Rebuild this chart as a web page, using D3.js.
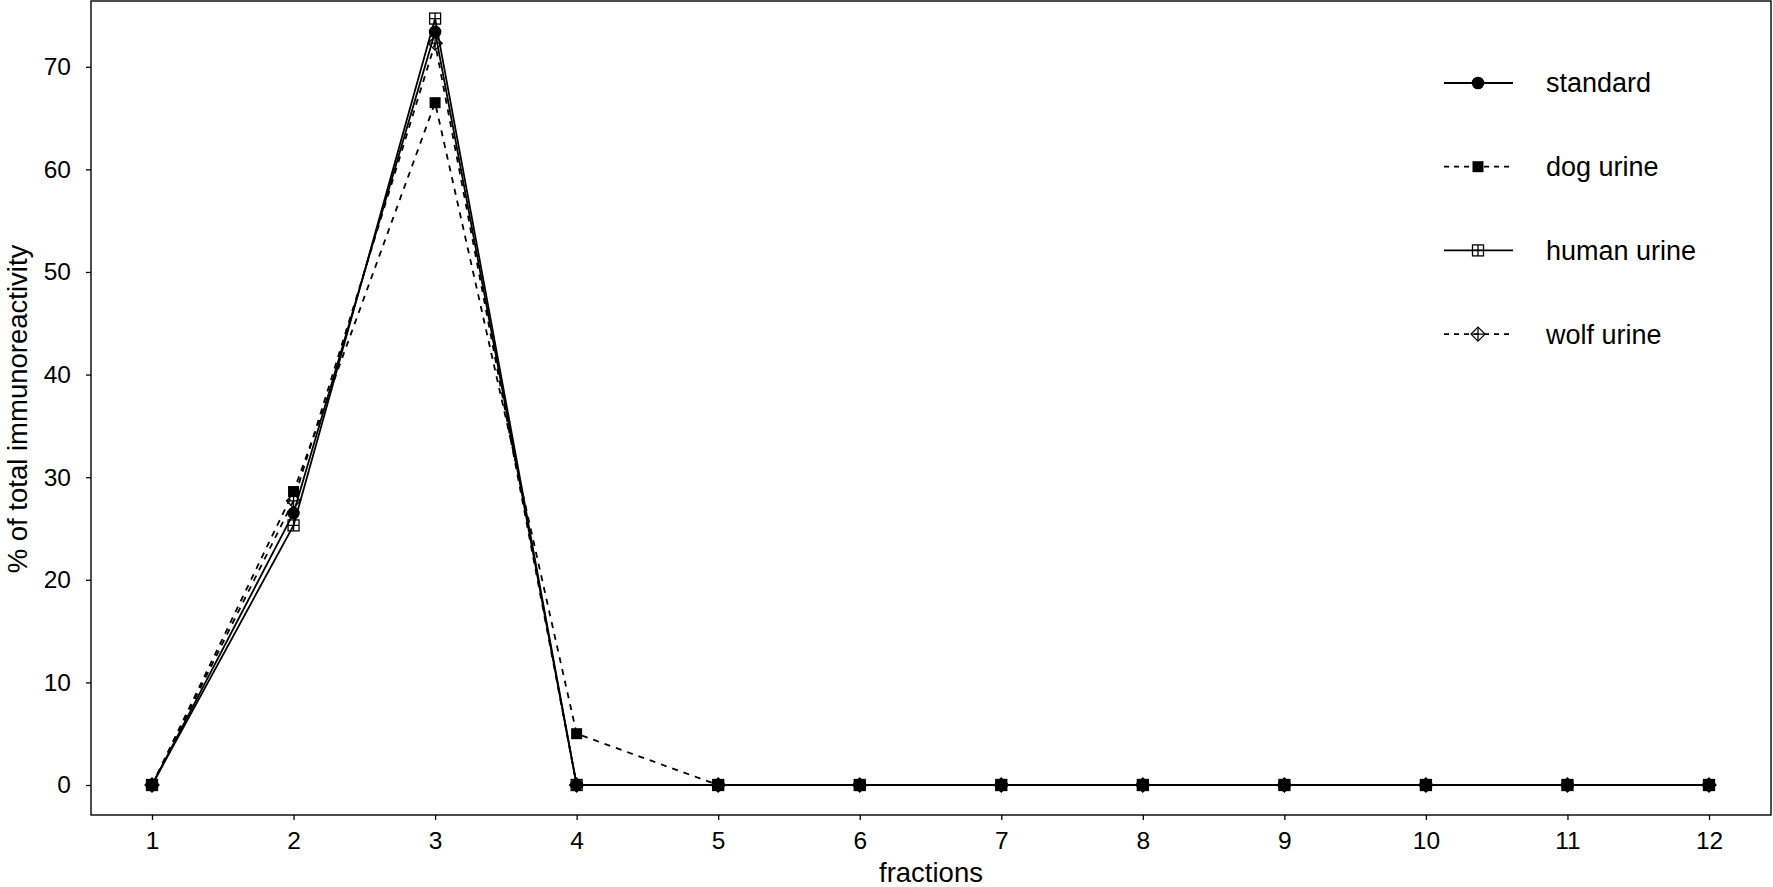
<!DOCTYPE html>
<html>
<head>
<meta charset="utf-8">
<script src="https://cdn.jsdelivr.net/npm/d3@7"></script>
<style>
  html, body { margin: 0; padding: 0; background: #fff; }
  svg { display: block; }
  text { font-family: "Liberation Sans", Arial, Helvetica, sans-serif; fill: #000; }
</style>
</head>
<body>
<svg id="chart" width="1773" height="887"></svg>
<script>
// ---- data ----
const fractions = [1, 2, 3, 4, 5, 6, 7, 8, 9, 10, 11, 12];
const standard  = [0, 26.5, 73.4, 0, 0, 0, 0, 0, 0, 0, 0, 0];
const dogUrine  = [0, 28.6, 66.5, 5.0, 0, 0, 0, 0, 0, 0, 0, 0];
const humanUrine= [0, 25.3, 74.7, 0, 0, 0, 0, 0, 0, 0, 0, 0];
const wolfUrine = [0, 27.7, 72.3, 0, 0, 0, 0, 0, 0, 0, 0, 0];
const yTicks = [0, 10, 20, 30, 40, 50, 60, 70];
const seriesNames = ["standard", "dog urine", "human urine", "wolf urine"];

const series = [
  { name: seriesNames[0], values: standard,   dash: null,  marker: "circle" },
  { name: seriesNames[1], values: dogUrine,   dash: "6,6", marker: "square" },
  { name: seriesNames[2], values: humanUrine, dash: null,  marker: "boxplus" },
  { name: seriesNames[3], values: wolfUrine,  dash: "6,6", marker: "diamondplus" }
];

// ---- layout ----
const L = 91, R = 1771, T = 1, B = 815;
const svg = d3.select("#chart");

const x = d3.scaleLinear().domain([0.569, 12.438]).range([L, R]);
const y = d3.scaleLinear().domain([-2.924, 76.41]).range([B, T]);

// axes
const xAxis = d3.axisBottom(x).tickValues(fractions).tickSize(5).tickSizeOuter(0).tickPadding(12).tickFormat(d3.format("d"));
const yAxis = d3.axisLeft(y).tickValues(yTicks).tickSize(5).tickSizeOuter(0).tickPadding(15).tickFormat(d3.format("d"));

const gx = svg.append("g").attr("transform", `translate(0,${B})`).call(xAxis);
const gy = svg.append("g").attr("transform", `translate(${L},0)`).call(yAxis);
[gx, gy].forEach(g => {
  g.select(".domain").remove();
  g.selectAll(".tick line").attr("stroke", "#000").attr("stroke-width", 1.3);
  g.selectAll(".tick text").style("font-size", "24.5px").attr("fill", "#000")
    .style("font-family", '"Liberation Sans", Arial, Helvetica, sans-serif');
});

// box
svg.append("rect").attr("x", L).attr("y", T).attr("width", R - L).attr("height", B - T)
  .attr("fill", "none").attr("stroke", "#000").attr("stroke-width", 1.4);

// axis titles
svg.append("text").attr("x", (L + R) / 2).attr("y", 882)
  .attr("text-anchor", "middle").style("font-size", "27.5px").text("fractions");
svg.append("text")
  .attr("transform", `translate(27,409) rotate(-90)`)
  .attr("text-anchor", "middle").style("font-size", "27.5px").text("% of total immunoreactivity");

// markers
function drawMarker(g, type, cx, cy) {
  if (type === "circle") {
    g.append("circle").attr("cx", cx).attr("cy", cy).attr("r", 6.3).attr("fill", "#000");
  } else if (type === "square") {
    g.append("rect").attr("x", cx - 5.5).attr("y", cy - 5.5).attr("width", 11).attr("height", 11).attr("fill", "#000");
  } else if (type === "boxplus") {
    g.append("rect").attr("x", cx - 5.5).attr("y", cy - 5.5).attr("width", 11).attr("height", 11)
      .attr("fill", "none").attr("stroke", "#000").attr("stroke-width", 1.3);
    g.append("path").attr("d", `M${cx - 5.5},${cy}H${cx + 5.5}M${cx},${cy - 5.5}V${cy + 5.5}`)
      .attr("stroke", "#000").attr("stroke-width", 1.3);
  } else if (type === "diamondplus") {
    const r = 7;
    g.append("path").attr("d", `M${cx},${cy - r}L${cx + r},${cy}L${cx},${cy + r}L${cx - r},${cy}Z`)
      .attr("fill", "none").attr("stroke", "#000").attr("stroke-width", 1.3);
    g.append("path").attr("d", `M${cx - r},${cy}H${cx + r}M${cx},${cy - r}V${cy + r}`)
      .attr("stroke", "#000").attr("stroke-width", 1.3);
  }
}

const line = d3.line().x((d, i) => x(fractions[i])).y(d => y(d));

series.forEach(s => {
  const g = svg.append("g");
  g.append("path").datum(s.values).attr("d", line)
    .attr("fill", "none").attr("stroke", "#000").attr("stroke-width", 1.8)
    .attr("stroke-dasharray", s.dash);
  s.values.forEach((v, i) => drawMarker(g, s.marker, x(fractions[i]), y(v)));
});

// legend
const legY0 = 83, legStep = 83.7, lx1 = 1444, lx2 = 1513, lmx = 1478, ltx = 1546;
series.forEach((s, i) => {
  const g = svg.append("g");
  const yy = legY0 + i * legStep;
  g.append("line").attr("x1", lx1).attr("x2", lx2).attr("y1", yy).attr("y2", yy)
    .attr("stroke", "#000").attr("stroke-width", 1.8).attr("stroke-dasharray", s.dash ? "5,5" : null);
  drawMarker(g, s.marker, lmx, yy);
  g.append("text").attr("x", ltx).attr("y", yy).attr("dy", "0.35em")
    .style("font-size", "27px").text(s.name);
});
</script>
</body>
</html>
